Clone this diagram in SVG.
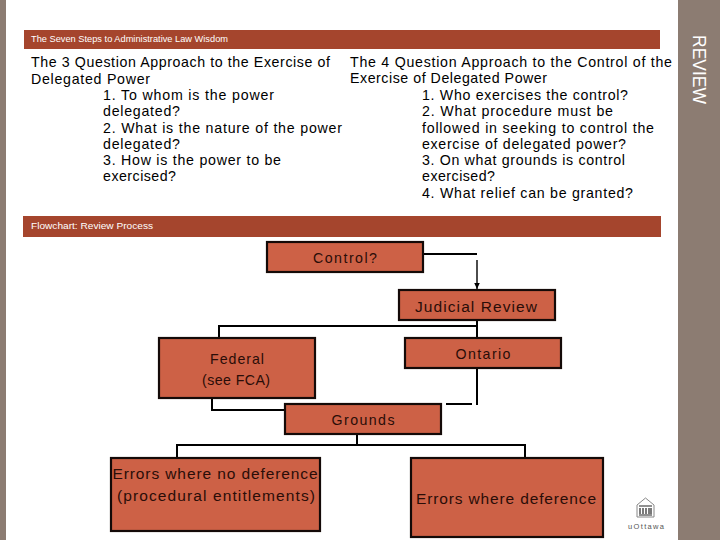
<svg xmlns="http://www.w3.org/2000/svg" width="720" height="540" viewBox="0 0 720 540">
<style>
text{font-family:"Liberation Sans",Arial,sans-serif;fill:#000}
.h{font-size:9.5px;fill:#fff}
.b{font-size:14.2px}
.n rect{fill:#cd6146;stroke:#140a08;stroke-width:2.2}
.n text{font-size:14.2px;text-anchor:middle;fill:#2a0d08}
.c path{fill:none;stroke:#000;stroke-width:2}
</style>
<defs><marker id="a" markerWidth="8" markerHeight="7" refX="6.500" refY="3" orient="auto" markerUnits="userSpaceOnUse"><path d="M0 0L6.500 3L0 6Z" fill="#000"/></marker></defs>
<rect width="720" height="540" fill="#fff"/>
<rect x="0" y="0" width="6" height="540" fill="#8c7c72"/>
<rect x="678" y="0" width="42" height="540" fill="#8c7c72"/>
<text transform="translate(693,35) rotate(90)" font-size="19" style="fill:#fff" textLength="69" lengthAdjust="spacingAndGlyphs">REVIEW</text>
<rect x="24" y="30" width="636" height="19" fill="#a5452d"/>
<text class="h" x="31" y="42" textLength="197" lengthAdjust="spacingAndGlyphs">The Seven Steps to Administrative Law Wisdom</text>
<rect x="23" y="216" width="638" height="21" fill="#a5452d"/>
<text class="h" x="31" y="229" textLength="122" lengthAdjust="spacingAndGlyphs">Flowchart: Review Process</text>
<g id="left-text">
<text class="b" x="31" y="67" textLength="299">The 3 Question Approach to the Exercise of</text>
<text class="b" x="31" y="84" textLength="119">Delegated Power</text>
<text class="b" x="103" y="100" textLength="171">1. To whom is the power</text>
<text class="b" x="103" y="116" textLength="77">delegated?</text>
<text class="b" x="103" y="133" textLength="239">2. What is the nature of the power</text>
<text class="b" x="103" y="149" textLength="77">delegated?</text>
<text class="b" x="103" y="165" textLength="178">3. How is the power to be</text>
<text class="b" x="103" y="181" textLength="73">exercised?</text>
</g>
<g id="right-text">
<text class="b" x="350" y="67" textLength="322">The 4 Question Approach to the Control of the</text>
<text class="b" x="350" y="83" textLength="197">Exercise of Delegated Power</text>
<text class="b" x="422" y="100" textLength="206">1. Who exercises the control?</text>
<text class="b" x="422" y="116" textLength="191">2. What procedure must be</text>
<text class="b" x="422" y="133" textLength="232">followed in seeking to control the</text>
<text class="b" x="422" y="149" textLength="204">exercise of delegated power?</text>
<text class="b" x="422" y="165" textLength="203">3. On what grounds is control</text>
<text class="b" x="422" y="181" textLength="73">exercised?</text>
<text class="b" x="422" y="198" textLength="211">4. What relief can be granted?</text>
</g>
<g id="connectors" class="c">
<path d="M423 254H477"/>
<path d="M477 260V289" style="stroke-width:1.4" marker-end="url(#a)"/>
<path d="M477 320V338"/>
<path d="M477 326H219V338"/>
<path d="M477 368V405"/>
<path d="M446 404H472"/>
<path d="M212 398V410H285"/>
<path d="M357 434V445"/>
<path d="M177 458V445H525V458"/>
</g>
<g id="control" class="n"><rect x="267" y="242" width="156" height="30"/><text x="345" y="263" textLength="64">Control?</text></g>
<g id="judicial-review" class="n"><rect x="399" y="290" width="156" height="30"/><text x="476" y="312" textLength="122" style="font-size:15.5px">Judicial Review</text></g>
<g id="federal" class="n"><rect x="159" y="338" width="156" height="60"/><text x="237" y="364" textLength="54">Federal</text><text x="236" y="385" textLength="68">(see FCA)</text></g>
<g id="ontario" class="n"><rect x="405" y="338" width="156" height="30"/><text x="483" y="359" textLength="55">Ontario</text></g>
<g id="grounds" class="n"><rect x="285" y="404" width="156" height="30"/><text x="363" y="425" textLength="63">Grounds</text></g>
<g id="no-deference" class="n"><rect x="111" y="458" width="209" height="73"/><text x="215" y="479" textLength="205" style="font-size:15.5px">Errors where no deference</text><text x="216" y="501" textLength="198" style="font-size:15.5px">(procedural entitlements)</text></g>
<g id="deference" class="n"><rect x="411" y="458" width="192" height="79"/><text x="506" y="504" textLength="180" style="font-size:15.5px">Errors where deference</text></g>
<g id="logo">
<path d="M637 505L645.500 498L654 505V517H637Z" fill="none" stroke="#888" stroke-width="1"/>
<path d="M639 506H652M640 508V514M643 508V514M646 508V514M649 508V514M651 508V514M639 515H652" stroke="#222" stroke-width="1.200" fill="none"/>
<text x="646" y="529" font-size="7.500" text-anchor="middle" style="fill:#555" textLength="36">uOttawa</text>
</g>
</svg>
